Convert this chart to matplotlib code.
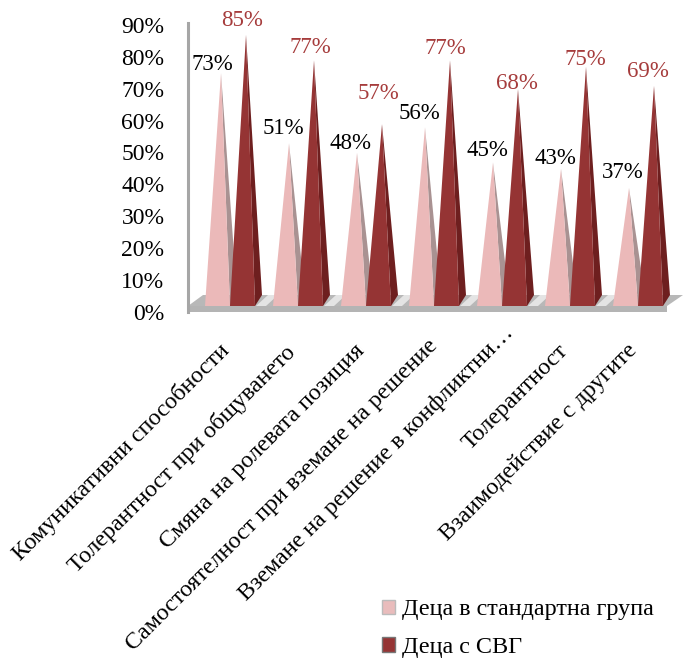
import matplotlib
matplotlib.use('Agg')
import matplotlib.pyplot as plt
from matplotlib.patches import Polygon, Patch
from matplotlib.transforms import ScaledTranslation

categories = ['Комуникативни способности', 'Толерантност при общуването',
              'Смяна на ролевата позиция', 'Самостоятелност при вземане на решение',
              'Вземане на решение в конфликтни…', 'Толерантност', 'Взаимодействие с другите']
standard_group = [73, 51, 48, 56, 45, 43, 37]
svg_group = [85, 77, 57, 77, 68, 75, 69]
y_ticks = [0, 10, 20, 30, 40, 50, 60, 70, 80, 90]
legend_names = ['Деца в стандартна група', 'Деца с СВГ']

# label offsets from the tip, in pixels
pink_label_dx = [-9, -6, -7, -6, -6, -6, -6]
pink_label_dy = [9, 15, 9, 14, 12, 10, 15]
red_label_dx = [-4, -4, -4, -5, -1, -1, -6]
red_label_dy = [14, 13, 31, 12, 6, 7, 14]
# category label nudges, in pixels
cat_shift_x = [-12, -14, -12, -7, 1, -12, -12]
cat_shift_y = [-3, -5, -3, 2, 15, -3, -3]

W, H = 683, 659
X_PX = 68.0   # pixels per category
Y_PX = 3.19   # pixels per percent

plt.rcParams['font.family'] = ['Liberation Serif', 'DejaVu Serif']

fig = plt.figure(figsize=(W / 100, H / 100), dpi=100)
ax = fig.add_axes([188 / W, (H - 312) / H, (W - 188) / W, 289 / H])
ax.set_xlim((188 - 230) / X_PX, (W - 230) / X_PX)
ax.set_ylim(0, 289 / Y_PX)


def dx(px):
    return px / X_PX


def dy(px):
    return px / Y_PX


half = dx(12.5)
depth_x = dx(7)
depth_y = dy(11)
lift = dy(6)


def pyramid(center, value, front, side):
    tip = (center + dx(3.5), value + lift)
    right = center + half
    left = center - half
    ax.add_patch(Polygon([(right, lift), (right + depth_x, lift + depth_y), tip],
                         color=side, lw=0, clip_on=False, zorder=3))
    ax.add_patch(Polygon([(left, lift), (right, lift), tip],
                         color=front, lw=0, clip_on=False, zorder=3))
    return tip


# floor
x0 = ax.get_xlim()[0]
x_front = x0 + dx(479)
ax.add_patch(Polygon([(x0, lift), (x_front, lift), (x_front + dx(16), lift + depth_y),
                      (x0 + dx(15), lift + depth_y)], color='#b8b8b8', lw=0, clip_on=False, zorder=1))
ax.add_patch(Polygon([(x0, 0), (x_front, 0), (x_front, lift), (x0, lift)],
                     color='#b4b4b4', lw=0, clip_on=False, zorder=1))
for i in range(len(categories) - 1):
    s = i + dx(26)
    ax.add_patch(Polygon([(s, lift), (s + dx(10), lift), (s + dx(22), lift + depth_y),
                          (s + dx(12), lift + depth_y)], color='#e4e4e4', lw=0, zorder=2))

for i in range(len(categories)):
    tip = pyramid(i - half, standard_group[i], '#ebb9b9', '#a99292')
    ax.annotate(f'{standard_group[i]}%', tip, xytext=(pink_label_dx[i], pink_label_dy[i]),
                textcoords='offset pixels', ha='center', va='center',
                fontsize=16.5, color='black', zorder=5, annotation_clip=False)
    tip = pyramid(i + half, svg_group[i], '#953434', '#6e1f1f')
    ax.annotate(f'{svg_group[i]}%', tip, xytext=(red_label_dx[i], red_label_dy[i]),
                textcoords='offset pixels', ha='center', va='center',
                fontsize=16.5, color='#a63c3c', zorder=5, annotation_clip=False)

for name in ['top', 'right', 'bottom']:
    ax.spines[name].set_visible(False)
ax.spines['left'].set_color('#a6a6a6')
ax.spines['left'].set_linewidth(2.2)

ax.set_yticks(y_ticks)
ax.set_yticklabels([f'{v}%' for v in y_ticks], fontsize=17)
ax.tick_params(axis='y', length=0, pad=17)
ax.set_xticks(range(len(categories)))
ax.set_xticklabels(categories, rotation=45, ha='right', rotation_mode='anchor', fontsize=17.3)
ax.tick_params(axis='x', length=0, pad=18)
for i, label in enumerate(ax.get_xticklabels()):
    shift = ScaledTranslation(cat_shift_x[i] / 100, cat_shift_y[i] / 100, fig.dpi_scale_trans)
    label.set_transform(label.get_transform() + shift)

handles = [Patch(facecolor='#e9bcbc', edgecolor='#bbbbbb'),
           Patch(facecolor='#953434', edgecolor='#777777')]
fig.legend(handles, legend_names, loc='lower left', bbox_to_anchor=(360 / W, -21 / H),
           frameon=False, fontsize=17.4, handlelength=0.55, handleheight=0.55,
           handletextpad=0.3, labelspacing=0.7)

fig.savefig('out.png', dpi=100)
